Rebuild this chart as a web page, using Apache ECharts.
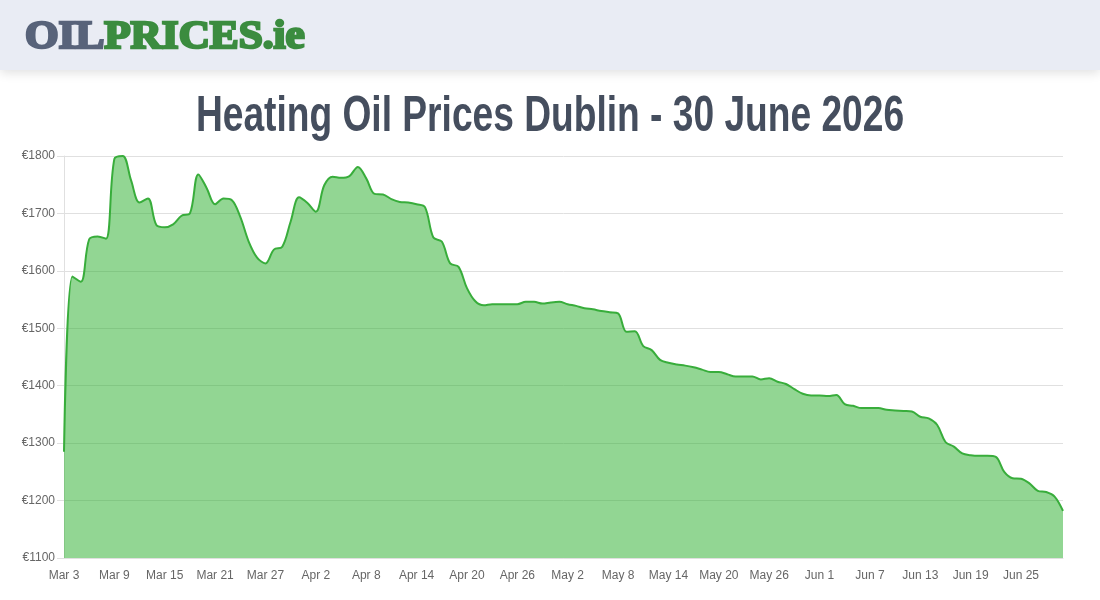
<!DOCTYPE html>
<html>
<head>
<meta charset="utf-8">
<title>Heating Oil Prices Dublin</title>
<script src="https://cdn.jsdelivr.net/npm/echarts@6/dist/echarts.min.js"></script>
<style>
  html, body { margin: 0; padding: 0; background: #fff; }
  #main { width: 1100px; height: 600px; }
</style>
</head>
<body>
<div id="main"></div>
<script>
// price per day, Mar 3 -> Jun 30
var days = [
  'Mar 3','Mar 4','Mar 5','Mar 6','Mar 7','Mar 8','Mar 9','Mar 10','Mar 11','Mar 12',
  'Mar 13','Mar 14','Mar 15','Mar 16','Mar 17','Mar 18','Mar 19','Mar 20','Mar 21','Mar 22',
  'Mar 23','Mar 24','Mar 25','Mar 26','Mar 27','Mar 28','Mar 29','Mar 30','Mar 31','Apr 1',
  'Apr 2','Apr 3','Apr 4','Apr 5','Apr 6','Apr 7','Apr 8','Apr 9','Apr 10','Apr 11',
  'Apr 12','Apr 13','Apr 14','Apr 15','Apr 16','Apr 17','Apr 18','Apr 19','Apr 20','Apr 21',
  'Apr 22','Apr 23','Apr 24','Apr 25','Apr 26','Apr 27','Apr 28','Apr 29','Apr 30','May 1',
  'May 2','May 3','May 4','May 5','May 6','May 7','May 8','May 9','May 10','May 11',
  'May 12','May 13','May 14','May 15','May 16','May 17','May 18','May 19','May 20','May 21',
  'May 22','May 23','May 24','May 25','May 26','May 27','May 28','May 29','May 30','May 31',
  'Jun 1','Jun 2','Jun 3','Jun 4','Jun 5','Jun 6','Jun 7','Jun 8','Jun 9','Jun 10',
  'Jun 11','Jun 12','Jun 13','Jun 14','Jun 15','Jun 16','Jun 17','Jun 18','Jun 19','Jun 20',
  'Jun 21','Jun 22','Jun 23','Jun 24','Jun 25','Jun 26','Jun 27','Jun 28','Jun 29','Jun 30'
];
var prices = [
  1285, 1590, 1581, 1655, 1660, 1656, 1795, 1800, 1757, 1719,
  1726, 1680, 1676, 1681, 1696, 1700, 1768, 1744, 1716, 1726,
  1723, 1694, 1651, 1623, 1613, 1637, 1642, 1686, 1728, 1718,
  1703, 1749, 1764, 1762, 1765, 1781, 1761, 1734, 1733, 1725,
  1720, 1719, 1716, 1711, 1658, 1651, 1613, 1607, 1570, 1547,
  1540, 1542, 1542, 1542, 1542, 1546, 1546, 1543, 1545, 1546,
  1542, 1539, 1535, 1533, 1530, 1528, 1526, 1494, 1495, 1469,
  1462, 1445, 1440, 1437, 1435, 1432, 1428, 1424, 1424, 1420,
  1416, 1416, 1416, 1411, 1413, 1407, 1403, 1394, 1386, 1383,
  1383, 1382, 1384, 1368, 1365, 1361, 1361, 1361, 1358, 1357,
  1356, 1355, 1346, 1343, 1332, 1302, 1294, 1282, 1279, 1278,
  1278, 1276, 1250, 1239, 1238, 1230, 1217, 1215, 1207, 1182
];
var chartTitle = 'Heating Oil Prices Dublin - 30 June 2026';

var myChart = echarts.init(document.getElementById('main'));

var option = {
  animation: false,
  backgroundColor: '#fff',
  graphic: [
    {
      // header band
      type: 'rect',
      z: -1,
      shape: { x: 0, y: 0, width: 1100, height: 70 },
      style: { fill: '#e9ecf4', shadowBlur: 10, shadowColor: 'rgba(0,0,0,0.12)', shadowOffsetY: 3 }
    },
    {
      // logo
      type: 'text',
      x: 25,
      y: 38,
      scaleX: 1.08,
      style: {
        x: 0, y: 0,
        text: '{a|OIL}{b|PRICES.ie}',
        verticalAlign: 'middle',
        rich: {
          a: { fontFamily: 'Liberation Serif', fontWeight: 'bold', fontSize: 40, fill: '#58637a', stroke: '#58637a', lineWidth: 2.5 },
          b: { fontFamily: 'Liberation Serif', fontWeight: 'bold', fontSize: 40, fill: '#3b8c3f', stroke: '#3b8c3f', lineWidth: 2.5 }
        }
      }
    },
    {
      // page title, narrowed to look like a condensed face
      type: 'text',
      x: 550,
      y: 117,
      scaleX: 0.743,
      style: {
        x: 0, y: 0,
        text: chartTitle,
        align: 'center',
        verticalAlign: 'middle',
        fontFamily: 'Liberation Sans',
        fontWeight: 'bold',
        fontSize: 50,
        fill: '#454e5e'
      }
    }
  ],
  grid: { left: 64, right: 37, top: 156, bottom: 42, containLabel: false },
  xAxis: {
    type: 'category',
    data: days,
    boundaryGap: false,
    axisLine: { lineStyle: { color: '#e0e0e0' } },
    axisTick: { show: false },
    axisLabel: {
      interval: 5,
      color: '#666',
      fontFamily: 'Liberation Sans',
      fontSize: 12,
      margin: 12
    },
    splitLine: { show: false }
  },
  yAxis: {
    type: 'value',
    min: 1100,
    max: 1800,
    interval: 100,
    axisLine: { show: true, lineStyle: { color: '#e0e0e0' } },
    axisTick: { show: true, length: 7, lineStyle: { color: '#e0e0e0' } },
    axisLabel: {
      formatter: function (v) { return '€' + v; },
      color: '#666',
      fontFamily: 'Liberation Sans',
      fontSize: 12,
      margin: 9
    },
    splitLine: { lineStyle: { color: '#e0e0e0' } }
  },
  series: [
    {
      type: 'line',
      data: prices,
      smooth: 0.35,
      symbol: 'none',
      lineStyle: { color: '#38ad3b', width: 2 },
      areaStyle: { color: 'rgba(37,173,39,0.5)', opacity: 1 }
    }
  ]
};

myChart.setOption(option);
</script>
</body>
</html>
